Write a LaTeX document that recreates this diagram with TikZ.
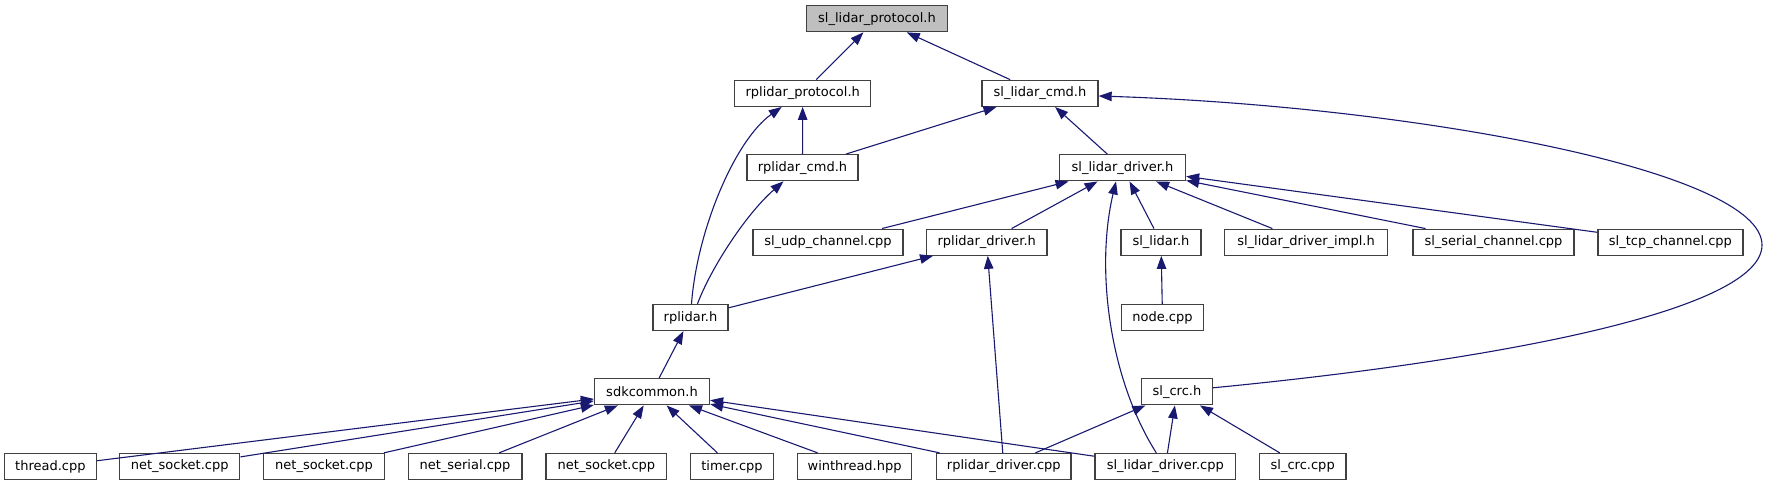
\documentclass[tikz,border=0pt]{standalone}
\usepackage{fontspec}
\setmainfont{DejaVu Sans}
\usetikzlibrary{arrows.meta}
\definecolor{edgec}{HTML}{191970}
\definecolor{boxc}{HTML}{404040}
\definecolor{rootc}{HTML}{BFBFBF}
\tikzset{
  fnode/.style={draw=boxc, line width=1.3pt, fill=white, minimum height=26pt, inner sep=0pt,
    font=\fontsize{13}{15}\selectfont},
  rootnode/.style={fnode, fill=rootc},
  edge/.style={draw=edgec, line width=1.1pt, -{Triangle[length=13pt,width=9.5pt]}}
}
\begin{document}
\begin{tikzpicture}[x=1pt,y=-1pt]
\useasboundingbox (0,0) rectangle (1769,485);
% row 1
\node[rootnode, minimum width=141.5pt] (slp) at (877,18.7) {sl\_lidar\_protocol.h};
% row 2
\node[fnode, minimum width=136pt] (rpp) at (802.7,93.3) {rplidar\_protocol.h};
\node[fnode, minimum width=116pt] (slc) at (1040,93.3) {sl\_lidar\_cmd.h};
% row 3
\node[fnode, minimum width=111pt] (rpc) at (802.5,167.7) {rplidar\_cmd.h};
\node[fnode, minimum width=126pt] (sld) at (1122.5,167.8) {sl\_lidar\_driver.h};
% row 4
\node[fnode, minimum width=150pt] (udp) at (828,242.2) {sl\_udp\_channel.cpp};
\node[fnode, minimum width=120.5pt] (rpd) at (986.7,242.2) {rplidar\_driver.h};
\node[fnode, minimum width=80pt] (sll) at (1161,242.2) {sl\_lidar.h};
\node[fnode, minimum width=162.5pt] (impl) at (1306,242.2) {sl\_lidar\_driver\_impl.h};
\node[fnode, minimum width=161pt] (ser) at (1493.5,242.2) {sl\_serial\_channel.cpp};
\node[fnode, minimum width=145pt] (tcp) at (1670.4,242.2) {sl\_tcp\_channel.cpp};
% row 5
\node[fnode, minimum width=75pt] (rph) at (690.5,317.5) {rplidar.h};
\node[fnode, minimum width=81.5pt] (nodecpp) at (1162.5,317.5) {node.cpp};
% row 6
\node[fnode, minimum width=115pt] (sdk) at (652,391.8) {sdkcommon.h};
\node[fnode, minimum width=70.6pt] (crc) at (1177,391.8) {sl\_crc.h};
% row 7
\node[fnode, minimum width=91.8pt] (thr) at (50.4,466.5) {thread.cpp};
\node[fnode, minimum width=120pt] (nsa) at (179.7,466.5) {net\_socket.cpp};
\node[fnode, minimum width=120.5pt] (nsb) at (324,466.5) {net\_socket.cpp};
\node[fnode, minimum width=113.7pt] (nser) at (465,466.5) {net\_serial.cpp};
\node[fnode, minimum width=120.8pt] (nsc) at (606.4,466.5) {net\_socket.cpp};
\node[fnode, minimum width=82.4pt] (tim) at (732,466.5) {timer.cpp};
\node[fnode, minimum width=114.4pt] (win) at (854.6,466.5) {winthread.hpp};
\node[fnode, minimum width=134.4pt] (rpdc) at (1003.8,466.5) {rplidar\_driver.cpp};
\node[fnode, minimum width=140.5pt] (sldc) at (1165.3,466.5) {sl\_lidar\_driver.cpp};
\node[fnode, minimum width=86.8pt] (crcc) at (1302.7,466.5) {sl\_crc.cpp};

% edges
\draw[edge] (rpp) -- (slp);
\draw[edge] (slc) -- (slp);
\draw[edge] (rpc) -- (rpp);
\draw[edge] ([xshift=1pt]rph.north) .. controls (697,230) and (735,140) .. ([xshift=-21pt]rpp.south);
\draw[edge] (rpc) -- (slc);
\draw[edge] (sld) -- (slc);
\draw[edge] ([yshift=4pt]crc.east) .. controls (1500,360) and (1762,310) .. (1762,245)
  .. controls (1762,170) and (1410,106) .. ([yshift=-2.7pt]slc.east);
\draw[edge] ([xshift=7pt]rph.north) .. controls (710,270) and (745,215) .. ([xshift=-19pt]rpc.south);
\draw[edge] (udp) -- (sld);
\draw[edge] (rpd) -- (sld);
\draw[edge] ([xshift=-9pt]sldc.north) .. controls (1110,380) and (1095,270) .. ([xshift=-6.5pt]sld.south);
\draw[edge] (sll) -- (sld);
\draw[edge] (impl) -- (sld);
\draw[edge] (ser) -- (sld);
\draw[edge] (tcp) -- (sld);
\draw[edge] (rph) -- (rpd);
\draw[edge] (rpdc) -- (rpd);
\draw[edge] (nodecpp) -- (sll);
\draw[edge] (sdk) -- (rph);
\draw[edge] (thr) -- (sdk);
\draw[edge] (nsa) -- (sdk);
\draw[edge] (nsb) -- (sdk);
\draw[edge] (nser) -- (sdk);
\draw[edge] (nsc) -- (sdk);
\draw[edge] (tim) -- (sdk);
\draw[edge] (win) -- (sdk);
\draw[edge] (rpdc) -- (sdk);
\draw[edge] (sldc) -- (sdk);
\draw[edge] (rpdc) -- (crc);
\draw[edge] (sldc) -- (crc);
\draw[edge] (crcc) -- (crc);
\end{tikzpicture}
\end{document}
